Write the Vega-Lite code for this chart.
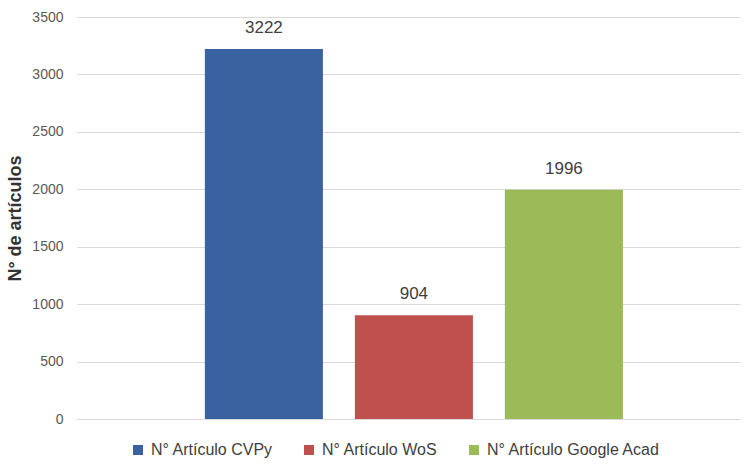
{
  "$schema": "https://vega.github.io/schema/vega-lite/v6.json",
  "width": 663,
  "height": 402,
  "autosize": {"type": "none"},
  "padding": {"left": 77, "top": 17, "right": 4, "bottom": 45},
  "background": "white",
  "config": {
    "font": "Liberation Sans",
    "view": {"stroke": null}
  },
  "data": {
    "values": [
      {"serie": "N° Artículo CVPy", "valor": 3222},
      {"serie": "N° Artículo WoS", "valor": 904},
      {"serie": "N° Artículo Google Acad", "valor": 1996}
    ]
  },
  "encoding": {
    "x": {
      "field": "serie",
      "type": "nominal",
      "sort": ["N° Artículo CVPy", "N° Artículo WoS", "N° Artículo Google Acad"],
      "scale": {"paddingInner": 0.213, "paddingOuter": 0.8165, "align": 0.522},
      "axis": null
    },
    "y": {
      "field": "valor",
      "type": "quantitative",
      "scale": {"domain": [0, 3500]},
      "axis": {
        "values": [0, 500, 1000, 1500, 2000, 2500, 3000, 3500],
        "format": "d",
        "title": "N° de artículos",
        "titleFont": "Liberation Sans",
        "titleFontSize": 18,
        "titleFontWeight": "bold",
        "titleColor": "#333333",
        "titlePadding": 7,
        "labelFontSize": 14,
        "labelColor": "#595959",
        "labelPadding": 14,
        "domain": false,
        "ticks": false,
        "gridColor": "#d9d9d9",
        "gridWidth": 1.2
      }
    }
  },
  "layer": [
    {
      "mark": {"type": "bar"},
      "encoding": {
        "color": {
          "field": "serie",
          "type": "nominal",
          "scale": {
            "domain": ["N° Artículo CVPy", "N° Artículo WoS", "N° Artículo Google Acad"],
            "range": ["#3B62A0", "#C0504D", "#9BBB59"]
          },
          "legend": {
            "title": null,
            "orient": "none",
            "direction": "horizontal",
            "legendX": 53,
            "legendY": 425,
            "symbolType": "square",
            "symbolSize": 100,
            "symbolStrokeWidth": 0,
            "labelFontSize": 16,
            "labelColor": "#404040",
            "labelLimit": 400,
            "columnPadding": 28,
            "labelOffset": 5
          }
        }
      }
    },
    {
      "mark": {"type": "text", "dy": -16, "baseline": "alphabetic", "fontSize": 17, "color": "#404040"},
      "encoding": {"text": {"field": "valor", "type": "quantitative", "format": "d"}}
    }
  ]
}
